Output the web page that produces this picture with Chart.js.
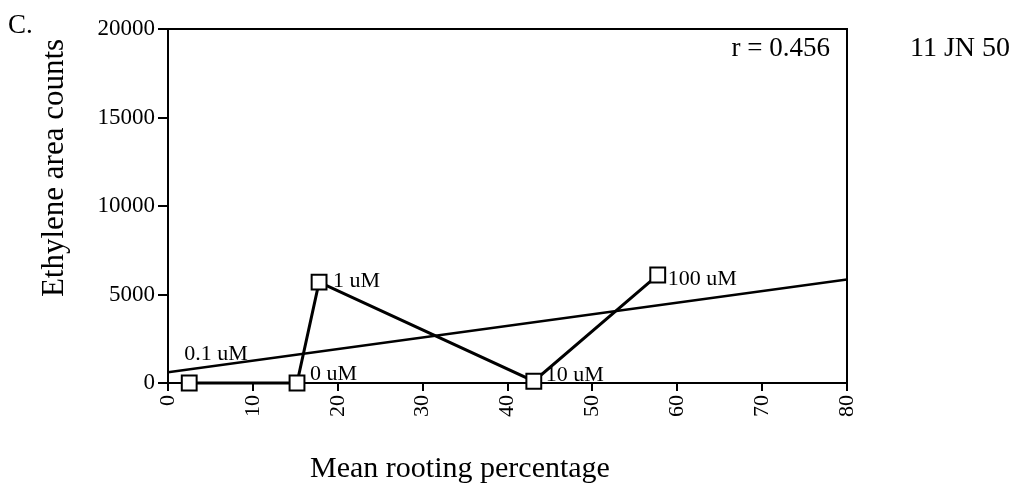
<!DOCTYPE html>
<html>
<head>
<meta charset="utf-8">
<script src="https://cdn.jsdelivr.net/npm/chart.js@4"></script>
<style>
  body { margin: 0; background: #fff; }
  #grafico { display: block; }
</style>
</head>
<body>
<canvas id="grafico" width="1035" height="496"></canvas>
<script>
// valores
const rooting = [2.5, 15.2, 17.8, 43.1, 57.7];
const ethylene = [0, 0, 5700, 100, 6100];
const pointNames = ['0.1 uM', '0 uM', '1 uM', '10 uM', '100 uM'];
const fitX = [0, 80];
const fitY = [600, 5850];
const xTicks = [0, 10, 20, 30, 40, 50, 60, 70, 80];
const yTicks = [0, 5000, 10000, 15000, 20000];
const rText = 'r = 0.456';

// desplazamiento de cada etiqueta respecto a su punto (px)
const labelOffsets = [[-5, -23], [13, -3], [14, 5], [12, 0], [10, 10]];

Chart.defaults.font.family = '"Liberation Serif", serif';
Chart.defaults.color = '#000';

const textos = {
    id: 'textos',
    beforeDatasetsDraw(chart) {
        const ctx = chart.ctx;
        const xs = chart.scales.x, ys = chart.scales.y;
        ctx.save();
        ctx.fillStyle = '#000';
        ctx.font = '22px "Liberation Serif"';
        ctx.textAlign = 'left';
        ctx.textBaseline = 'alphabetic';
        pointNames.forEach((nombre, i) => {
            const px = xs.getPixelForValue(rooting[i]);
            const py = ys.getPixelForValue(ethylene[i]);
            ctx.fillText(nombre, px + labelOffsets[i][0], py + labelOffsets[i][1]);
        });
        ctx.restore();
    },
    afterDraw(chart) {
        const ctx = chart.ctx;
        const a = chart.chartArea;
        ctx.save();
        // marco superior y derecho
        ctx.strokeStyle = '#000';
        ctx.lineWidth = 2;
        ctx.beginPath();
        ctx.moveTo(a.left, a.top);
        ctx.lineTo(a.right, a.top);
        ctx.lineTo(a.right, a.bottom);
        ctx.stroke();

        ctx.fillStyle = '#000';
        ctx.textBaseline = 'alphabetic';
        ctx.font = '27px "Liberation Serif"';
        ctx.textAlign = 'left';
        ctx.fillText('C.', 8, 33);
        ctx.textAlign = 'right';
        ctx.fillText(rText, a.right - 17, 56);
        ctx.font = '28px "Liberation Serif"';
        ctx.textAlign = 'left';
        ctx.fillText('11 JN 50', 910, 56);

        ctx.font = '30px "Liberation Serif"';
        ctx.textAlign = 'center';
        ctx.fillText('Mean rooting percentage', 460, 477);
        ctx.font = '31px "Liberation Serif"';
        ctx.translate(63, 168);
        ctx.rotate(-Math.PI / 2);
        ctx.fillText('Ethylene area counts', 0, 0);
        ctx.restore();
    }
};

new Chart(document.getElementById('grafico'), {
    type: 'scatter',
    data: {
        datasets: [{
            label: 'ajuste',
            data: fitX.map((x, i) => ({ x: x, y: fitY[i] })),
            showLine: true,
            borderColor: '#000',
            borderWidth: 2.5,
            pointRadius: 0,
            order: 2
        }, {
            label: 'etileno',
            data: rooting.map((x, i) => ({ x: x, y: ethylene[i] })),
            showLine: true,
            clip: false,
            borderColor: '#000',
            borderWidth: 3,
            pointStyle: 'rect',
            pointRadius: 10.5,
            pointBorderWidth: 2,
            pointBackgroundColor: '#fff',
            pointBorderColor: '#000',
            order: 1
        }]
    },
    options: {
        responsive: false,
        animation: false,
        layout: { padding: { top: 29, right: 188, left: 0, bottom: 0 } },
        plugins: { legend: { display: false }, tooltip: { enabled: false } },
        scales: {
            x: {
                type: 'linear',
                min: xTicks[0],
                max: xTicks[xTicks.length - 1],
                afterFit: s => { s.height = 113; },
                afterBuildTicks: s => { s.ticks = xTicks.map(v => ({ value: v })); },
                ticks: { minRotation: 90, maxRotation: 90, padding: 4, font: { size: 22 }, color: '#000' },
                grid: { drawOnChartArea: false, color: '#000', lineWidth: 2, tickLength: 8 },
                border: { color: '#000', width: 2 }
            },
            y: {
                min: yTicks[0],
                max: yTicks[yTicks.length - 1],
                afterFit: s => { s.width = 168; },
                afterBuildTicks: s => { s.ticks = yTicks.map(v => ({ value: v })); },
                ticks: { padding: 3, font: { size: 23 }, color: '#000', callback: v => String(v) },
                grid: { drawOnChartArea: false, color: '#000', lineWidth: 2, tickLength: 10 },
                border: { color: '#000', width: 2 }
            }
        }
    },
    plugins: [textos]
});
</script>
</body>
</html>
